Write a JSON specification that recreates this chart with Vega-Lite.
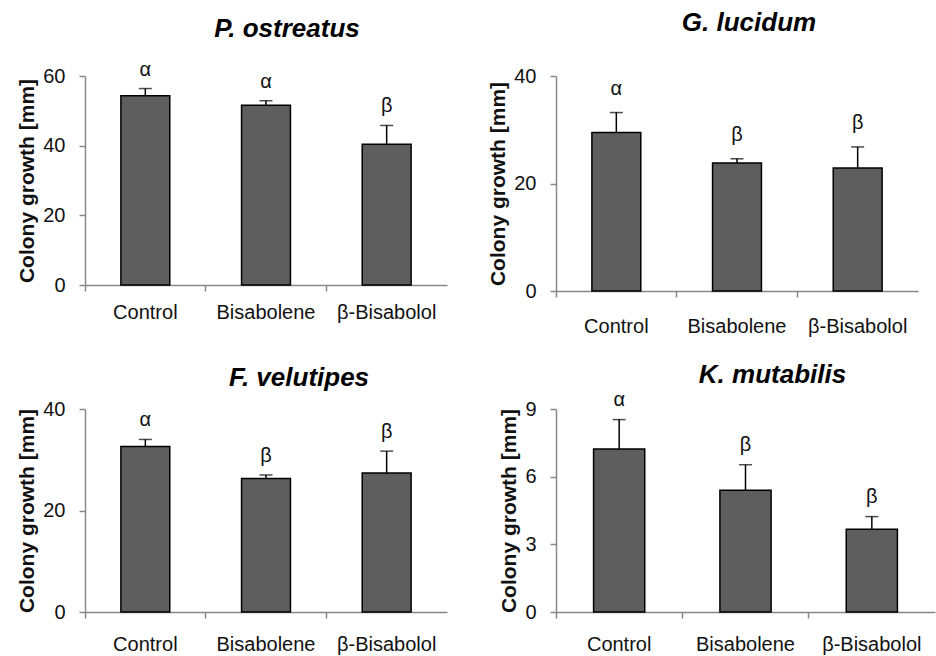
{
  "$schema": "https://vega.github.io/schema/vega-lite/v6.json",
  "background": "white",
  "padding": {"left": 16, "top": 10, "right": 5, "bottom": 2},
  "datasets": {
    "d": [
      {"panel": "P. ostreatus", "treatment": "Control", "mean": 54.3, "upper": 56.4, "letter": "α"},
      {"panel": "P. ostreatus", "treatment": "Bisabolene", "mean": 51.6, "upper": 52.9, "letter": "α"},
      {"panel": "P. ostreatus", "treatment": "β-Bisabolol", "mean": 40.4, "upper": 45.8, "letter": "β"},
      {"panel": "G. lucidum", "treatment": "Control", "mean": 29.5, "upper": 33.2, "letter": "α"},
      {"panel": "G. lucidum", "treatment": "Bisabolene", "mean": 23.8, "upper": 24.6, "letter": "β"},
      {"panel": "G. lucidum", "treatment": "β-Bisabolol", "mean": 22.9, "upper": 26.8, "letter": "β"},
      {"panel": "F. velutipes", "treatment": "Control", "mean": 32.6, "upper": 34.0, "letter": "α"},
      {"panel": "F. velutipes", "treatment": "Bisabolene", "mean": 26.3, "upper": 27.0, "letter": "β"},
      {"panel": "F. velutipes", "treatment": "β-Bisabolol", "mean": 27.4, "upper": 31.7, "letter": "β"},
      {"panel": "K. mutabilis", "treatment": "Control", "mean": 7.23, "upper": 8.53, "letter": "α"},
      {"panel": "K. mutabilis", "treatment": "Bisabolene", "mean": 5.40, "upper": 6.53, "letter": "β"},
      {"panel": "K. mutabilis", "treatment": "β-Bisabolol", "mean": 3.67, "upper": 4.23, "letter": "β"}
    ]
  },
  "config": {
    "view": {"stroke": null},
    "font": "Liberation Sans",
    "title": {"font": "Liberation Sans", "fontSize": 26, "fontWeight": "bold", "fontStyle": "italic", "color": "black", "anchor": "middle", "frame": "group", "baseline": "alphabetic"},
    "axis": {"grid": false, "domainColor": "#888888", "tickColor": "#888888", "domainWidth": 1.5, "tickWidth": 1.5, "tickSize": 6,
             "labelFont": "Liberation Sans", "labelFontSize": 20, "labelColor": "#111111",
             "titleFont": "Liberation Sans", "titleFontSize": 21, "titleFontWeight": "bold", "titleColor": "#111111"},
    "axisX": {"labelAngle": 0, "bandPosition": 0, "title": null},
    "axisY": {"labelPadding": 14, "titlePadding": 5}
  },
  "bounds": "flush",
  "columns": 2,
  "spacing": {"row": 118, "column": 109},
  "concat": [
    {
      "width": 362, "height": 209,
      "title": {"text": "P. ostreatus", "dx": 21, "offset": 18},
      "data": {"name": "d"},
      "transform": [{"filter": "datum.panel === 'P. ostreatus'"}],
      "encoding": {"x": {"field": "treatment", "type": "nominal", "sort": ["Control", "Bisabolene", "β-Bisabolol"], "scale": {"paddingInner": 0, "paddingOuter": 0}, "axis": {"labelPadding": 11}}},
      "layer": [
        {"mark": {"type": "bar", "width": {"band": 0.405}, "fill": "#5e5e5e", "stroke": "black", "strokeWidth": 1.5},
         "encoding": {"y": {"field": "mean", "type": "quantitative", "title": "Colony growth [mm]", "scale": {"domain": [0, 60], "nice": false}, "axis": {"values": [0, 20, 40, 60]}}}},
        {"mark": {"type": "rule", "color": "black", "strokeWidth": 1.5},
         "encoding": {"y": {"field": "mean", "type": "quantitative", "title": "Colony growth [mm]"}, "y2": {"field": "upper"}}},
        {"mark": {"type": "tick", "color": "black", "size": 13, "thickness": 1.5},
         "encoding": {"y": {"field": "upper", "type": "quantitative", "title": "Colony growth [mm]"}}},
        {"mark": {"type": "text", "fontSize": 20, "baseline": "alphabetic", "dy": -13, "color": "#111111"},
         "encoding": {"y": {"field": "upper", "type": "quantitative", "title": "Colony growth [mm]"}, "text": {"field": "letter"}}}
      ]
    },
    {
      "width": 362, "height": 215,
      "title": {"text": "G. lucidum", "dx": 12, "offset": 30},
      "data": {"name": "d"},
      "transform": [{"filter": "datum.panel === 'G. lucidum'"}],
      "encoding": {"x": {"field": "treatment", "type": "nominal", "sort": ["Control", "Bisabolene", "β-Bisabolol"], "scale": {"paddingInner": 0, "paddingOuter": 0}, "axis": {"labelPadding": 19}}},
      "layer": [
        {"mark": {"type": "bar", "width": {"band": 0.405}, "fill": "#5e5e5e", "stroke": "black", "strokeWidth": 1.5},
         "encoding": {"y": {"field": "mean", "type": "quantitative", "title": "Colony growth [mm]", "scale": {"domain": [0, 40], "nice": false}, "axis": {"values": [0, 20, 40]}}}},
        {"mark": {"type": "rule", "color": "black", "strokeWidth": 1.5},
         "encoding": {"y": {"field": "mean", "type": "quantitative", "title": "Colony growth [mm]"}, "y2": {"field": "upper"}}},
        {"mark": {"type": "tick", "color": "black", "size": 13, "thickness": 1.5},
         "encoding": {"y": {"field": "upper", "type": "quantitative", "title": "Colony growth [mm]"}}},
        {"mark": {"type": "text", "fontSize": 20, "baseline": "alphabetic", "dy": -18, "color": "#111111"},
         "encoding": {"y": {"field": "upper", "type": "quantitative", "title": "Colony growth [mm]"}, "text": {"field": "letter"}}}
      ]
    },
    {
      "width": 362, "height": 203,
      "title": {"text": "F. velutipes", "dx": 33, "offset": 8},
      "data": {"name": "d"},
      "transform": [{"filter": "datum.panel === 'F. velutipes'"}],
      "encoding": {"x": {"field": "treatment", "type": "nominal", "sort": ["Control", "Bisabolene", "β-Bisabolol"], "scale": {"paddingInner": 0, "paddingOuter": 0}, "axis": {"labelPadding": 16}}},
      "layer": [
        {"mark": {"type": "bar", "width": {"band": 0.405}, "fill": "#5e5e5e", "stroke": "black", "strokeWidth": 1.5},
         "encoding": {"y": {"field": "mean", "type": "quantitative", "title": "Colony growth [mm]", "scale": {"domain": [0, 40], "nice": false}, "axis": {"values": [0, 20, 40]}}}},
        {"mark": {"type": "rule", "color": "black", "strokeWidth": 1.5},
         "encoding": {"y": {"field": "mean", "type": "quantitative", "title": "Colony growth [mm]"}, "y2": {"field": "upper"}}},
        {"mark": {"type": "tick", "color": "black", "size": 13, "thickness": 1.5},
         "encoding": {"y": {"field": "upper", "type": "quantitative", "title": "Colony growth [mm]"}}},
        {"mark": {"type": "text", "fontSize": 20, "baseline": "alphabetic", "dy": -13, "color": "#111111"},
         "encoding": {"y": {"field": "upper", "type": "quantitative", "title": "Colony growth [mm]"}, "text": {"field": "letter"}}}
      ]
    },
    {
      "width": 379, "height": 203,
      "title": {"text": "K. mutabilis", "dx": 27, "offset": 2},
      "data": {"name": "d"},
      "transform": [{"filter": "datum.panel === 'K. mutabilis'"}],
      "encoding": {"x": {"field": "treatment", "type": "nominal", "sort": ["Control", "Bisabolene", "β-Bisabolol"], "scale": {"paddingInner": 0, "paddingOuter": 0}, "axis": {"labelPadding": 16}}},
      "layer": [
        {"mark": {"type": "bar", "width": {"band": 0.405}, "fill": "#5e5e5e", "stroke": "black", "strokeWidth": 1.5},
         "encoding": {"y": {"field": "mean", "type": "quantitative", "title": "Colony growth [mm]", "scale": {"domain": [0, 9], "nice": false}, "axis": {"values": [0, 3, 6, 9]}}}},
        {"mark": {"type": "rule", "color": "black", "strokeWidth": 1.5},
         "encoding": {"y": {"field": "mean", "type": "quantitative", "title": "Colony growth [mm]"}, "y2": {"field": "upper"}}},
        {"mark": {"type": "tick", "color": "black", "size": 13, "thickness": 1.5},
         "encoding": {"y": {"field": "upper", "type": "quantitative", "title": "Colony growth [mm]"}}},
        {"mark": {"type": "text", "fontSize": 20, "baseline": "alphabetic", "dy": -14, "color": "#111111"},
         "encoding": {"y": {"field": "upper", "type": "quantitative", "title": "Colony growth [mm]"}, "text": {"field": "letter"}}}
      ]
    }
  ]
}
